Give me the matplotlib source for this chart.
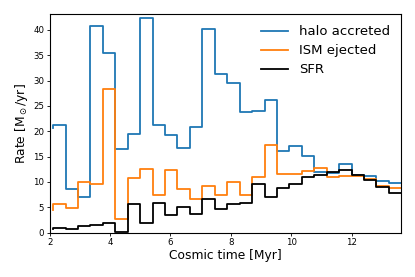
import numpy as np
import matplotlib
matplotlib.use("Agg")
import matplotlib.pyplot as plt

# Rejilla temporal (Myr): 28 intervalos + punto inicial
t_start = 2.11
t_end = 13.65
n_bins = 28
time = np.linspace(t_start, t_end, n_bins + 1)

# Tasas [Msun/yr]; el primer valor es el punto inicial (step 'pre')
halo_accreted = [20.7, 21.3, 8.7, 7.1, 40.7, 35.5, 16.6, 19.4, 42.4, 21.2,
                 19.3, 16.7, 20.8, 40.1, 31.2, 29.5, 23.8, 23.9, 26.1, 16.1,
                 17.0, 15.1, 11.9, 11.8, 13.5, 11.4, 11.1, 10.2, 9.8]
ism_ejected = [4.5, 5.6, 4.9, 10.0, 9.6, 28.4, 2.75, 10.8, 12.5, 7.5,
               12.3, 8.7, 6.6, 9.2, 7.5, 10.0, 7.4, 10.9, 17.2, 11.5,
               11.5, 12.1, 12.7, 11.0, 11.2, 11.2, 10.5, 9.2, 8.9]
sfr = [0.7, 1.0, 0.8, 1.3, 1.6, 2.0, 0.2, 5.7, 2.0, 5.8,
       3.4, 5.0, 3.7, 6.6, 4.6, 5.6, 5.8, 9.6, 7.0, 8.9,
       9.6, 10.9, 11.3, 11.9, 12.3, 11.3, 10.4, 8.95, 7.9]

fig, ax = plt.subplots(figsize=(4.15, 2.77), dpi=100)
fig.subplots_adjust(left=0.12, right=0.967, top=0.949, bottom=0.16)

ax.step(time, halo_accreted, where='pre', color='C0', lw=1.3, label='halo accreted')
ax.step(time, ism_ejected, where='pre', color='C1', lw=1.3, label='ISM ejected')
ax.step(time, sfr, where='pre', color='black', lw=1.3, label='SFR')

ax.set_xlim(2, t_end)
ax.set_ylim(0, 43.1)
ax.set_yticks(np.arange(0, 41, 5))
ax.tick_params(labelsize=6.2, length=2.5, width=0.6, pad=1.5)
for s in ax.spines.values():
    s.set_linewidth(0.8)
ax.set_xlabel("Cosmic time [Myr]", fontsize=8.8, labelpad=1)
ax.set_ylabel(r"Rate [M$_\odot$/yr]", fontsize=8.8, labelpad=2)
ax.legend(loc='upper right', frameon=False, fontsize=9.5, handlelength=2.1,
          labelspacing=0.45, borderaxespad=0.45)

fig.savefig("out.png", dpi=100)
